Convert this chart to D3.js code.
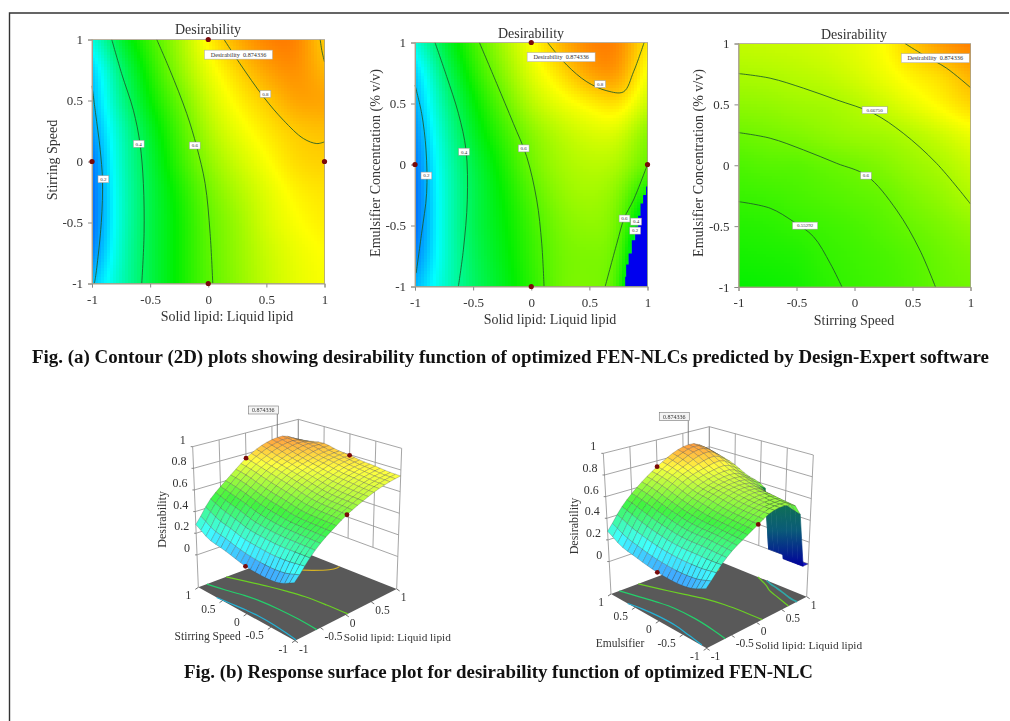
<!DOCTYPE html>
<html>
<head>
<meta charset="utf-8">
<script src="https://cdn.jsdelivr.net/npm/d3@7"></script>
<style>
  html, body { margin: 0; background: #fff; }
  svg { display: block; filter: blur(0.45px); font-family: "Liberation Serif", serif; }
</style>
</head>
<body>
<svg id="chart" width="1010" height="721"></svg>
<script>
// Coded factor levels on every axis
const tickValues = [-1, -0.5, 0, 0.5, 1];
const zTicks = [0, 0.2, 0.4, 0.6, 0.8, 1];
const gridLevels = [-1, -0.75, -0.5, -0.25, 0, 0.25, 0.5, 0.75, 1];

// Desirability, rows from factor B = 1 down to -1
const speedLipidGrid = [
    [0.28, 0.45, 0.56, 0.66, 0.76, 0.83, 0.87, 0.875, 0.80],
    [0.20, 0.39, 0.53, 0.64, 0.73, 0.79, 0.84, 0.86, 0.82],
    [0.18, 0.36, 0.50, 0.60, 0.70, 0.76, 0.80, 0.84, 0.84],
    [0.15, 0.32, 0.46, 0.57, 0.67, 0.73, 0.77, 0.80, 0.81],
    [0.12, 0.31, 0.44, 0.55, 0.64, 0.70, 0.745, 0.785, 0.795],
    [0.11, 0.30, 0.43, 0.52, 0.61, 0.67, 0.72, 0.76, 0.775],
    [0.11, 0.30, 0.43, 0.51, 0.595, 0.65, 0.71, 0.745, 0.765],
    [0.13, 0.31, 0.43, 0.51, 0.59, 0.645, 0.695, 0.73, 0.75],
    [0.19, 0.32, 0.43, 0.51, 0.585, 0.64, 0.69, 0.725, 0.745]
];
const emulsifierLipidGrid = [
    [0.28, 0.44, 0.56, 0.66, 0.745, 0.82, 0.87, 0.87, 0.77],
    [0.20, 0.39, 0.53, 0.63, 0.72, 0.78, 0.84, 0.85, 0.74],
    [0.17, 0.35, 0.49, 0.59, 0.68, 0.73, 0.76, 0.78, 0.70],
    [0.14, 0.32, 0.46, 0.55, 0.63, 0.68, 0.71, 0.71, 0.63],
    [0.12, 0.30, 0.43, 0.52, 0.61, 0.66, 0.68, 0.67, 0.60],
    [0.11, 0.29, 0.42, 0.50, 0.58, 0.64, 0.66, 0.63, 0.50],
    [0.11, 0.29, 0.42, 0.49, 0.56, 0.62, 0.64, 0.61, 0.40],
    [0.13, 0.29, 0.41, 0.48, 0.55, 0.61, 0.62, 0.59, 0.30],
    [0.18, 0.30, 0.40, 0.47, 0.54, 0.61, 0.62, 0.57, 0.20]
];
const emulsifierSpeedGrid = [
    [0.69, 0.695, 0.70, 0.71, 0.725, 0.75, 0.805, 0.85, 0.875],
    [0.667, 0.672, 0.68, 0.69, 0.71, 0.735, 0.765, 0.785, 0.825],
    [0.64, 0.645, 0.655, 0.66, 0.675, 0.70, 0.73, 0.76, 0.79],
    [0.605, 0.615, 0.625, 0.64, 0.652, 0.658, 0.675, 0.70, 0.73],
    [0.575, 0.585, 0.585, 0.598, 0.61, 0.628, 0.65, 0.667, 0.695],
    [0.555, 0.56, 0.57, 0.58, 0.59, 0.60, 0.625, 0.645, 0.672],
    [0.535, 0.54, 0.55, 0.56, 0.57, 0.585, 0.603, 0.62, 0.64],
    [0.52, 0.525, 0.53, 0.55, 0.56, 0.57, 0.585, 0.605, 0.62],
    [0.505, 0.51, 0.52, 0.54, 0.555, 0.565, 0.58, 0.60, 0.61]
];

// Contour lines as [factor A, factor B]
const speedLipidContours = [
    { level: 0.2, pts: [[-1, 0.62], [-0.97, 0.4], [-0.93, 0.1], [-0.91, -0.15], [-0.92, -0.5], [-0.97, -0.95], [-0.98, -1]] },
    { level: 0.4, pts: [[-0.83, 1], [-0.745, 0.72], [-0.644, 0.42], [-0.587, 0.147], [-0.558, -0.18], [-0.552, -0.59], [-0.572, -1]] },
    { level: 0.6, pts: [[-0.443, 1], [-0.329, 0.748], [-0.185, 0.393], [-0.099, 0.12], [-0.027, -0.18], [0.016, -0.59], [0.039, -1]] },
    { level: 0.8, pts: [[0.136, 1], [0.274, 0.80], [0.475, 0.53], [0.647, 0.338], [0.819, 0.188], [0.934, 0.147], [1, 0.161]] },
    { level: 0.8, pts: [[0.963, 1], [0.977, 0.91], [1, 0.816]] }
];
const emulsifierLipidContours = [
    { level: 0.2, pts: [[-1, 0.65], [-0.943, 0.42], [-0.905, 0.118], [-0.9, -0.236], [-0.943, -0.563], [-0.99, -0.89]] },
    { level: 0.4, pts: [[-0.828, 1], [-0.727, 0.72], [-0.627, 0.42], [-0.561, 0.118], [-0.55, -0.29], [-0.584, -0.7], [-0.627, -1]] },
    { level: 0.6, pts: [[-0.446, 1], [-0.297, 0.664], [-0.154, 0.337], [-0.039, 0.064], [0.047, -0.29], [0.09, -0.645], [0.11, -1]] },
    { level: 0.8, pts: [[0.14, 1], [0.307, 0.814], [0.478, 0.678], [0.651, 0.604], [0.794, 0.596], [0.88, 0.76], [0.971, 1]] },
    { level: 0.6, pts: [[1, 0], [0.88, -0.29], [0.8, -0.44], [0.737, -0.645], [0.636, -1]] }
];
const emulsifierSpeedContours = [
    { level: 0.8, pts: [[0.435, 1], [0.593, 0.907], [0.794, 0.797], [1, 0.638]] },
    { level: 0.6675, pts: [[-1, 0.753], [-0.727, 0.715], [-0.44, 0.633], [-0.154, 0.537], [0.162, 0.427], [0.42, 0.263], [0.707, 0.016], [1, -0.318]] },
    { level: 0.6, pts: [[-1, 0.268], [-0.727, 0.222], [-0.44, 0.126], [-0.154, 0.016], [0.104, -0.085], [0.362, -0.367], [0.563, -0.696], [0.698, -1]] },
    { level: 0.553, pts: [[-1, -0.299], [-0.727, -0.353], [-0.526, -0.463], [-0.354, -0.586], [-0.21, -0.805], [-0.108, -1]] }
];

// Edge of the zero desirability region, bottom right of the middle contour plot
const cliffEdge = [[1, -0.18], [0.975, -0.25], [0.95, -0.32], [0.93, -0.42], [0.908, -0.51], [0.88, -0.62], [0.85, -0.73], [0.825, -0.82], [0.808, -0.92], [0.808, -1]];
const cliffCorner = [1, -1];

// Design points
const designPoints = [[0, 1], [-1, 0], [1, 0], [0, -1]];

// Contour label text and where it sits on its line
const speedLipidLabels = [["0.2", -0.902, -0.145], ["0.4", -0.598, 0.145], ["0.6", -0.116, 0.131], ["0.8", 0.492, 0.554]];
const emulsifierLipidLabels = [["0.2", -0.902, -0.091], ["0.4", -0.578, 0.105], ["0.6", -0.065, 0.132], ["0.8", 0.593, 0.659], ["0.6", 0.802, -0.443], ["0.4", 0.902, -0.468], ["0.2", 0.894, -0.542]];
const emulsifierSpeedLabels = [["0.66750", 0.174, 0.452], ["0.6", 0.099, -0.085], ["0.55292", -0.426, -0.496]];
const optimumText = "Desirability  0.874336";
const optimumValue = "0.874336";

const svg = d3.select("#chart");

// Outer frame
svg.append("path")
    .attr("d", "M1009,13H9.5V721")
    .attr("fill", "none")
    .attr("stroke", "#333")
    .attr("stroke-width", 1.4);

// Design-Expert style colour ramp
const colour = d3.scaleLinear()
    .domain([0, 0.25, 0.5, 0.75, 1])
    .range(["#0000ff", "#00ffff", "#00f000", "#ffff00", "#ff0000"])
    .clamp(true);

// The read grid is coarse, so draw from a fine smoothed copy of it
const fineSize = 81;
function catmull(a, b, c, d, t) {
    return 0.5 * (2 * b + (c - a) * t + (2 * a - 5 * b + 4 * c - d) * t * t + (3 * b - a - 3 * c + d) * t * t * t);
}
function bicubic(grid, x, y) {
    const last = gridLevels.length - 1;
    const fx = Math.min((x + 1) * 4, last - 1e-6), fy = Math.min((1 - y) * 4, last - 1e-6);
    const j = Math.floor(fx), i = Math.floor(fy);
    const at = (r, c) => grid[Math.max(0, Math.min(last, r))][Math.max(0, Math.min(last, c))];
    const rows = [-1, 0, 1, 2].map(k => catmull(at(i + k, j - 1), at(i + k, j), at(i + k, j + 1), at(i + k, j + 2), fx - j));
    return catmull(rows[0], rows[1], rows[2], rows[3], fy - i);
}
function smoothField(grid) {
    const n = fineSize;
    let f = d3.range(n).map(r => d3.range(n).map(c => bicubic(grid, -1 + 2 * c / (n - 1), 1 - 2 * r / (n - 1))));
    // odd reflection at the edges keeps the slope there
    const get = (a, r, c) => {
        if (r < 0) return 2 * get(a, 0, c) - get(a, -r, c);
        if (r >= n) return 2 * get(a, n - 1, c) - get(a, 2 * (n - 1) - r, c);
        if (c < 0) return 2 * a[r][0] - a[r][-c];
        if (c >= n) return 2 * a[r][n - 1] - a[r][2 * (n - 1) - c];
        return a[r][c];
    };
    for (let pass = 0; pass < 14; pass++) {
        const src = f;
        f = d3.range(n).map(r => d3.range(n).map(c =>
            (4 * src[r][c] + 2 * (get(src, r - 1, c) + get(src, r + 1, c) + get(src, r, c - 1) + get(src, r, c + 1))
            + get(src, r - 1, c - 1) + get(src, r - 1, c + 1) + get(src, r + 1, c - 1) + get(src, r + 1, c + 1)) / 16));
    }
    return f;
}
const fields = new Map([speedLipidGrid, emulsifierLipidGrid, emulsifierSpeedGrid].map(g => [g, smoothField(g)]));
function sample(grid, x, y) {
    const f = fields.get(grid), n = fineSize - 1;
    const fx = Math.min((x + 1) / 2 * n, n - 1e-6), fy = Math.min((1 - y) / 2 * n, n - 1e-6);
    const c = Math.floor(fx), r = Math.floor(fy), tx = fx - c, ty = fy - r;
    return (f[r][c] * (1 - tx) + f[r][c + 1] * tx) * (1 - ty) + (f[r + 1][c] * (1 - tx) + f[r + 1][c + 1] * tx) * ty;
}

const contourPanels = [
    { grid: speedLipidGrid, contours: speedLipidContours, labels: speedLipidLabels, dots: true, cliff: false,
      left: 92, right: 324.5, top: 39.5, bottom: 283.5, xTitle: "Solid lipid: Liquid lipid", xTitleX: 227, xTitleY: 321,
      yTitle: "Stirring Speed", yTitleX: 57, yTitleY: 160, titleX: 208, titleY: 34, boxX: 0.26, boxY: 0.876 },
    { grid: emulsifierLipidGrid, contours: emulsifierLipidContours, labels: emulsifierLipidLabels, dots: true, cliff: true,
      left: 415, right: 647.5, top: 42.5, bottom: 286.5, xTitle: "Solid lipid: Liquid lipid", xTitleX: 550, xTitleY: 324,
      yTitle: "Emulsifier Concentration (% v/v)", yTitleX: 380, yTitleY: 163, titleX: 531, titleY: 38, boxX: 0.257, boxY: 0.88 },
    { grid: emulsifierSpeedGrid, contours: emulsifierSpeedContours, labels: emulsifierSpeedLabels, dots: false, cliff: false,
      left: 738.5, right: 970.5, top: 43.5, bottom: 287, xTitle: "Stirring Speed", xTitleX: 854, xTitleY: 325,
      yTitle: "Emulsifier Concentration (% v/v)", yTitleX: 703, yTitleY: 163, titleX: 854, titleY: 39, boxX: 0.696, boxY: 0.879 }
];

const step = 3;
contourPanels.forEach(p => {
    const x = d3.scaleLinear().domain([-1, 1]).range([p.left, p.right]);
    const y = d3.scaleLinear().domain([-1, 1]).range([p.bottom, p.top]);
    const g = svg.append("g");

    // Colour field, drawn as small cells
    const cells = [];
    for (let px = p.left; px < p.right; px += step) {
        for (let py = p.top; py < p.bottom; py += step) {
            cells.push({ px, py, v: sample(p.grid, x.invert(px + step / 2), y.invert(py + step / 2)) });
        }
    }
    g.append("g").attr("shape-rendering", "crispEdges")
        .selectAll("rect").data(cells).enter().append("rect")
        .attr("x", d => d.px)
        .attr("y", d => d.py)
        .attr("width", d => Math.min(step + 0.5, p.right - d.px))
        .attr("height", d => Math.min(step + 0.5, p.bottom - d.py))
        .attr("fill", d => colour(d.v));

    // Zero desirability corner
    if (p.cliff) {
        const edge = d3.line().x(d => x(d[0])).y(d => y(d[1])).curve(d3.curveStep);
        g.append("path")
            .attr("d", edge(cliffEdge.concat([cliffCorner])) + "Z")
            .attr("fill", "#0000ee");
    }

    // Contour lines
    const line = d3.line().x(d => x(d[0])).y(d => y(d[1])).curve(d3.curveCatmullRom);
    g.selectAll(".contour").data(p.contours).enter().append("path")
        .attr("class", "contour")
        .attr("d", d => line(d.pts))
        .attr("fill", "none")
        .attr("stroke", "#1d5a2a")
        .attr("stroke-opacity", 0.85)
        .attr("stroke-width", 1);

    // Axes
    const xAxis = g.append("g").attr("transform", `translate(0,${p.bottom})`)
        .call(d3.axisBottom(x).tickValues(tickValues).tickFormat(d => d).tickSize(4).tickPadding(7));
    const yAxis = g.append("g").attr("transform", `translate(${p.left},0)`)
        .call(d3.axisLeft(y).tickValues(tickValues).tickFormat(d => d).tickSize(4).tickPadding(5));
    [xAxis, yAxis].forEach(a => {
        a.selectAll("text").attr("font-family", "Liberation Serif").attr("font-size", 13).attr("fill", "#333");
        a.selectAll("line").attr("stroke", "#888");
        a.select(".domain").attr("stroke", "#a9a08a");
    });
    g.append("rect")
        .attr("x", p.left).attr("y", p.top)
        .attr("width", p.right - p.left).attr("height", p.bottom - p.top)
        .attr("fill", "none").attr("stroke", "#a9a08a").attr("stroke-width", 0.8);

    // Contour labels
    const labels = g.selectAll(".clabel").data(p.labels).enter().append("g")
        .attr("transform", d => `translate(${x(d[1])},${y(d[2])})`);
    labels.append("rect")
        .attr("x", d => -d[0].length * 1.8).attr("y", -3.5)
        .attr("width", d => d[0].length * 3.6).attr("height", 7)
        .attr("fill", "#fff").attr("stroke", "#9a9a9a").attr("stroke-width", 0.5);
    labels.append("text")
        .attr("text-anchor", "middle").attr("y", 1.8)
        .attr("font-size", 5).attr("fill", "#333")
        .text(d => d[0]);

    // Optimum box
    const box = g.append("g").attr("transform", `translate(${x(p.boxX)},${y(p.boxY)})`);
    box.append("rect").attr("x", -34).attr("y", -4.5).attr("width", 68).attr("height", 9)
        .attr("fill", "#fff").attr("stroke", "#aaa").attr("stroke-width", 0.5);
    box.append("text").attr("text-anchor", "middle").attr("y", 2).attr("font-size", 6.2)
        .attr("fill", "#333").attr("xml:space", "preserve").text(optimumText);

    // Design points
    if (p.dots) {
        g.selectAll(".dot").data(designPoints).enter().append("circle")
            .attr("cx", d => x(d[0])).attr("cy", d => y(d[1])).attr("r", 2.6)
            .attr("fill", "#7a0a0a");
    }

    // Titles
    g.append("text").attr("x", p.titleX).attr("y", p.titleY).attr("text-anchor", "middle")
        .attr("font-size", 14).attr("fill", "#333").text("Desirability");
    g.append("text").attr("x", p.xTitleX).attr("y", p.xTitleY).attr("text-anchor", "middle")
        .attr("font-size", 14).attr("fill", "#333").text(p.xTitle);
    g.append("text").attr("text-anchor", "middle").attr("font-size", 14).attr("fill", "#333")
        .attr("transform", `translate(${p.yTitleX},${p.yTitleY}) rotate(-90)`)
        .text(p.yTitle);
});

// Captions
svg.append("text").attr("x", 32).attr("y", 363)
    .attr("font-weight", "bold").attr("font-size", 18).attr("fill", "#111")
    .attr("textLength", 957).attr("lengthAdjust", "spacingAndGlyphs")
    .text("Fig. (a) Contour (2D) plots showing desirability function of optimized FEN-NLCs predicted by Design-Expert software");
svg.append("text").attr("x", 184).attr("y", 678)
    .attr("font-weight", "bold").attr("font-size", 18).attr("fill", "#111")
    .attr("textLength", 629).attr("lengthAdjust", "spacingAndGlyphs")
    .text("Fig. (b) Response surface plot for desirability function of optimized FEN-NLC");

// Response surfaces
const surfacePanels = [
    { grid: speedLipidGrid, contours: speedLipidContours, cliff: false, leftName: "Stirring Speed",
      ox: 130, oy: 390,
      floor: { near: [495, 752], right: [800, 597], left: [205, 592], back: [505, 480] },
      roof: { near: [490, 291], right: [815, 175], left: [188, 170], back: [505, 88] },
      leftTitle: [233, 751], rightTitle: [802, 754], zTitle: [95, 388], boxTop: 48 },
    { grid: emulsifierLipidGrid, contours: emulsifierLipidContours, cliff: true, leftName: "Emulsifier",
      ox: 540, oy: 390,
      floor: { near: [500, 775], right: [800, 620], left: [213, 612], back: [508, 502] },
      roof: { near: [495, 290], right: [820, 195], left: [190, 190], back: [508, 110] },
      leftTitle: [240, 771], rightTitle: [806, 776], zTitle: [103, 408], boxTop: 68 }
];

const zScale = d3.scaleLinear().domain([-0.3, 1]).range([0, 1]);
const meshSteps = 20;

surfacePanels.forEach(p => {
    // Corners were measured on a 3x crop, so bring them back to page pixels
    const px = c => [p.ox + c[0] / 3, p.oy + c[1] / 3];
    const mix = (a, b, t) => [a[0] + (b[0] - a[0]) * t, a[1] + (b[1] - a[1]) * t];
    const plane = (c, x, y) => {
        const u = (x + 1) / 2, v = (y + 1) / 2;
        return mix(mix(px(c.near), px(c.right), u), mix(px(c.left), px(c.back), u), v);
    };
    const project = (x, y, z) => mix(plane(p.floor, x, y), plane(p.roof, x, y), zScale(z));
    const floorZ = zScale.domain()[0];
    // pushed past the plot edge so points on x = 1 and y = -1 count as inside
    const polygon = cliffEdge.concat([[0.808, -1.2], [1.2, -1.2], [1.2, -0.18]]);
    const height = (x, y) => (p.cliff && d3.polygonContains(polygon, [x, y])) ? 0 : sample(p.grid, x, y);
    const path = d3.line();
    const g = svg.append("g");

    // Back walls
    const wall = g.append("g").attr("fill", "none").attr("stroke", "#9b9b9b").attr("stroke-width", 0.9);
    tickValues.forEach(t => {
        [[t, 1], [1, t]].forEach(([a, b]) => {
            const low = (t === 1 || t === -1) ? floorZ : 0;
            wall.append("path").attr("d", path([project(a, b, low), project(a, b, 1)]));
        });
    });
    zTicks.forEach(z => {
        wall.append("path").attr("d", path([project(-1, 1, z), project(1, 1, z), project(1, -1, z)]));
    });

    // Floor
    g.append("path")
        .attr("d", path([project(-1, -1, floorZ), project(1, -1, floorZ), project(1, 1, floorZ), project(-1, 1, floorZ)]) + "Z")
        .attr("fill", "#595959");

    // Contours on the floor
    const floorLine = d3.line().curve(d3.curveCatmullRom);
    p.contours.forEach(c => {
        g.append("path")
            .attr("d", floorLine(c.pts.map(d => project(d[0], d[1], floorZ))))
            .attr("fill", "none")
            .attr("stroke", d3.interpolateRgb(colour(c.level), "#777")(0.3))
            .attr("stroke-width", 1.2);
    });
    if (p.cliff) {
        g.append("path")
            .attr("d", floorLine(cliffEdge.map(d => project(d[0], d[1], floorZ))))
            .attr("fill", "none").attr("stroke", "#2fa8a8").attr("stroke-width", 1.6);
    }

    // Surface quads, far ones first so near ones paint over
    const levels = d3.range(meshSteps + 1).map(i => -1 + 2 * i / meshSteps);
    const quads = [];
    for (let i = 0; i < meshSteps; i++) {
        for (let j = 0; j < meshSteps; j++) {
            const corners = [[levels[i], levels[j]], [levels[i + 1], levels[j]], [levels[i + 1], levels[j + 1]], [levels[i], levels[j + 1]]]
                .map(c => [c[0], c[1], height(c[0], c[1])]);
            const zs = corners.map(c => c[2]);
            quads.push({
                corners,
                mean: d3.mean(zs),
                steep: d3.max(zs) - d3.min(zs) > 0.2,
                depth: levels[i] + levels[j]
            });
        }
    }
    quads.sort((a, b) => b.depth - a.depth);

    if (p.cliff) {
        const steepPts = quads.filter(q => q.steep).flatMap(q => q.corners.map(c => project(c[0], c[1], c[2])[1]));
        const gradient = svg.append("defs").append("linearGradient")
            .attr("id", "curtain").attr("gradientUnits", "userSpaceOnUse")
            .attr("x1", 0).attr("x2", 0)
            .attr("y1", d3.min(steepPts)).attr("y2", d3.max(steepPts));
        gradient.append("stop").attr("offset", 0).attr("stop-color", "#12803c");
        gradient.append("stop").attr("offset", 0.55).attr("stop-color", "#0a5a78");
        gradient.append("stop").attr("offset", 1).attr("stop-color", "#00009c");
    }

    g.append("g").selectAll("path").data(quads).enter().append("path")
        .attr("d", q => path(q.corners.map(c => project(c[0], c[1], c[2]))) + "Z")
        .attr("fill", q => q.steep ? "url(#curtain)" : q.mean < 0.02 ? "#1818c8" : d3.interpolateRgb(colour(q.mean), "#ffffff")(0.25))
        .attr("stroke", q => q.steep ? "url(#curtain)" : "#3c3c3c")
        .attr("stroke-opacity", q => q.steep ? 1 : 0.42)
        .attr("stroke-width", 0.6);

    // Design points on the surface; on the second plot (1, 0) sits behind the ridge
    const visiblePoints = designPoints.filter(d => !(p.cliff && d[0] === 1));
    g.selectAll(".dot").data(visiblePoints).enter().append("circle")
        .attr("cx", d => project(d[0], d[1], sample(p.grid, d[0], d[1]))[0])
        .attr("cy", d => project(d[0], d[1], sample(p.grid, d[0], d[1]))[1])
        .attr("r", 2.4).attr("fill", "#7a0a0a");

    // Optimum flag
    const peak = project(0.6, 1, sample(p.grid, 0.6, 1));
    g.append("path").attr("d", path([peak, [peak[0], p.oy + p.boxTop / 3 + 8]]))
        .attr("stroke", "#666").attr("stroke-width", 0.8);
    g.append("rect").attr("x", peak[0] - 29).attr("y", p.oy + p.boxTop / 3)
        .attr("width", 30).attr("height", 8)
        .attr("fill", "#f4f4f4").attr("stroke", "#777").attr("stroke-width", 0.6);
    g.append("text").attr("x", peak[0] - 14).attr("y", p.oy + p.boxTop / 3 + 6)
        .attr("text-anchor", "middle").attr("font-size", 6).attr("fill", "#333").text(optimumValue);

    // Axis ticks and labels
    const text = (s, pos, anchor, size) => g.append("text")
        .attr("x", pos[0]).attr("y", pos[1]).attr("text-anchor", anchor)
        .attr("font-size", size).attr("fill", "#333").text(s);
    tickValues.forEach(t => {
        const l = project(-1, t, floorZ), r = project(t, -1, floorZ);
        g.append("path").attr("d", path([l, [l[0] - 3, l[1] + 2]])).attr("stroke", "#333").attr("stroke-width", 0.7);
        g.append("path").attr("d", path([r, [r[0] + 3, r[1] + 2]])).attr("stroke", "#333").attr("stroke-width", 0.7);
        text(t, [l[0] - 7, l[1] + 12], "end", 11.5);
        text(t, [r[0] + 4, r[1] + 12], "start", 11.5);
    });
    zTicks.forEach(z => {
        const e = project(-1, 1, z);
        g.append("path").attr("d", path([e, [e[0] - 2, e[1]]])).attr("stroke", "#555").attr("stroke-width", 0.7);
        text(z, [e[0] - 7, e[1] - 3], "end", 12);
    });
    text(p.leftName, px(p.leftTitle), "middle", 11.5);
    text("Solid lipid: Liquid lipid", px(p.rightTitle), "middle", 11.3);
    const zt = px(p.zTitle);
    g.append("text").attr("text-anchor", "middle").attr("font-size", 12).attr("fill", "#333")
        .attr("transform", `translate(${zt[0] + 4},${zt[1]}) rotate(-90)`)
        .text("Desirability");
});
</script>
</body>
</html>
